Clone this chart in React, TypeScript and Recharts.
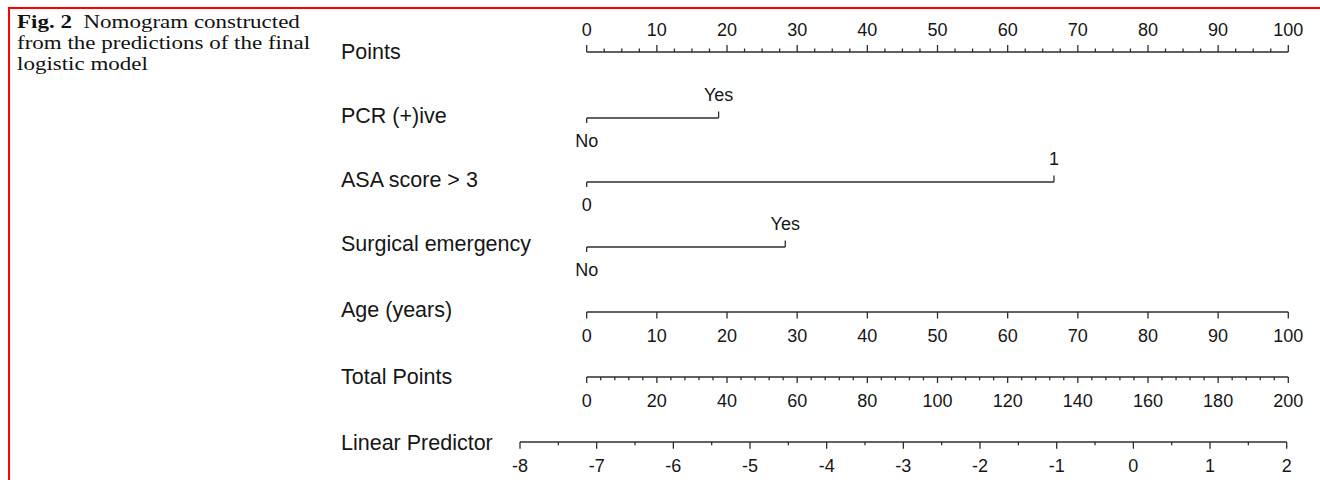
import React from 'react';
import { ComposedChart, Line, XAxis, YAxis } from 'recharts';

// ---------- data ----------
const rowLabels = ['Points', 'PCR (+)ive', 'ASA score > 3', 'Surgical emergency', 'Age (years)', 'Total Points', 'Linear Predictor'];

const pointsMajor = [0, 10, 20, 30, 40, 50, 60, 70, 80, 90, 100];
const pointsMinor = [2.5, 5, 7.5, 12.5, 15, 17.5, 22.5, 25, 27.5, 32.5, 35, 37.5, 42.5, 45, 47.5, 52.5, 55, 57.5, 62.5, 65, 67.5, 72.5, 75, 77.5, 82.5, 85, 87.5, 92.5, 95, 97.5];

const pcrLevels = ['No', 'Yes'];
const pcrPoints = [0, 18.8];
const asaLevels = ['0', '1'];
const asaPoints = [0, 66.6];
const emergencyLevels = ['No', 'Yes'];
const emergencyPoints = [0, 28.3];

const ageMajor = [0, 10, 20, 30, 40, 50, 60, 70, 80, 90, 100];

const totalMajor = [0, 20, 40, 60, 80, 100, 120, 140, 160, 180, 200];
const totalMinor = [4, 8, 12, 16, 24, 28, 32, 36, 44, 48, 52, 56, 64, 68, 72, 76, 84, 88, 92, 96, 104, 108, 112, 116, 124, 128, 132, 136, 144, 148, 152, 156, 164, 168, 172, 176, 184, 188, 192, 196];

const lpMajor = [-8, -7, -6, -5, -4, -3, -2, -1, 0, 1, 2];
const lpMinor = [-7.5, -6.5, -5.5, -4.5, -3.5, -2.5, -1.5, -0.5, 0.5, 1.5];

// ---------- style ----------
const W = 1320;
const INK = '#2e2e2e';
const TXT = '#161616';
const SANS = '"Liberation Sans", Arial, sans-serif';
const TICK_FS = 18;
const LABEL_FS = 21.5;
const X0 = 586.7;
const X1 = 1288.3;

const labelBaselines = [59.3, 123.3, 187.3, 251, 316.5, 383.5, 450];

type AxisRowProps = {
  lineY: number;
  xStart: number;
  xEnd: number;
  domain: [number, number];
  major: number[];
  minor: number[];
  orientation: 'top' | 'bottom';
  majorLen: number;
  minorLen: number;
  labelOff: number;
};

function AxisRow(p: AxisRowProps) {
  const all = [...p.major, ...p.minor].sort((a, b) => a - b);
  const data = all.map((v) => ({ x: v, y: 0 }));
  const dir = p.orientation === 'top' ? -1 : 1;
  const H = 50;
  const axisH = 40;
  const top = p.orientation === 'top' ? p.lineY - axisH : p.lineY - (H - axisH);
  const tick = (props: any) => {
    const { x, y, payload } = props;
    const v = payload.value;
    const isMajor = p.major.includes(v);
    const len = isMajor ? p.majorLen : p.minorLen;
    return (
      <g>
        <line x1={x} x2={x} y1={y} y2={y + dir * len} stroke={INK} strokeWidth={1.3} />
        {isMajor && (
          <text x={x} y={y + p.labelOff} textAnchor="middle" fontFamily={SANS} fontSize={TICK_FS} fill={TXT}>
            {String(v)}
          </text>
        )}
      </g>
    );
  };
  return (
    <div style={{ position: 'absolute', left: 0, top }}>
      <ComposedChart width={W} height={H} data={data} margin={{ top: 0, bottom: 0, left: p.xStart, right: W - p.xEnd }}>
        <XAxis
          dataKey="x"
          type="number"
          domain={p.domain}
          ticks={all}
          interval={0}
          orientation={p.orientation}
          height={axisH}
          tickSize={0}
          tickMargin={0}
          tickLine={false}
          axisLine={{ stroke: INK, strokeWidth: 1.3 }}
          tick={tick}
          allowDataOverflow
        />
        <YAxis hide domain={[0, 1]} />
        <Line dataKey="y" stroke="none" dot={false} isAnimationActive={false} />
      </ComposedChart>
    </div>
  );
}

type BinaryRowProps = {
  lineY: number;
  levels: string[];
  values: number[];
};

function BinaryRow(p: BinaryRowProps) {
  const data = p.values.map((v, i) => ({ x: v, y: 0.5, level: p.levels[i] }));
  const H = 80;
  const dot = (props: any) => {
    const { cx, cy, index, payload } = props;
    const first = index === 0;
    return (
      <g key={'d' + index}>
        <line x1={cx} x2={cx} y1={cy} y2={first ? cy + 5 : cy - 6.5} stroke={INK} strokeWidth={1.3} />
        <text x={cx} y={first ? cy + 29 : cy - 16.6} textAnchor="middle" fontFamily={SANS} fontSize={TICK_FS} fill={TXT}>
          {payload.level}
        </text>
      </g>
    );
  };
  return (
    <div style={{ position: 'absolute', left: 0, top: p.lineY - H / 2 }}>
      <ComposedChart width={W} height={H} data={data} margin={{ top: 0, bottom: 0, left: X0, right: W - X1 }}>
        <XAxis dataKey="x" type="number" domain={[0, 100]} hide />
        <YAxis hide domain={[0, 1]} />
        <Line dataKey="y" stroke={INK} strokeWidth={1.3} dot={dot} activeDot={false} isAnimationActive={false} />
      </ComposedChart>
    </div>
  );
}

export default function App() {
  return (
    <div style={{ position: 'fixed', left: 0, top: 0, width: W, height: 480, background: '#fff', overflow: 'hidden' }}>
      <div
        style={{
          position: 'absolute',
          left: 8,
          top: 7,
          width: 1312,
          height: 473,
          boxSizing: 'border-box',
          borderTop: '2px solid #ff0000',
          borderLeft: '2px solid #ff0000',
        }}
      />
      <div
        style={{
          position: 'absolute',
          left: 17,
          top: 11,
          fontFamily: '"Liberation Serif", "Times New Roman", serif',
          fontSize: 19,
          lineHeight: '21px',
          color: '#111',
          whiteSpace: 'nowrap',
          transform: 'scaleX(1.21)',
          transformOrigin: 'left top',
        }}
      >
        <b>Fig. 2</b>
        {'\u2002Nomogram constructed'}
        <br />
        {'from the predictions of the final'}
        <br />
        {'logistic model'}
      </div>

      <AxisRow lineY={52} xStart={X0} xEnd={X1} domain={[0, 100]} major={pointsMajor} minor={pointsMinor} orientation="top" majorLen={7} minorLen={3.5} labelOff={-16} />
      <BinaryRow lineY={118.3} levels={pcrLevels} values={pcrPoints} />
      <BinaryRow lineY={182.4} levels={asaLevels} values={asaPoints} />
      <BinaryRow lineY={246.5} levels={emergencyLevels} values={emergencyPoints} />
      <AxisRow lineY={311.7} xStart={X0} xEnd={X1} domain={[0, 100]} major={ageMajor} minor={[]} orientation="bottom" majorLen={6.5} minorLen={3.3} labelOff={30} />
      <AxisRow lineY={377.3} xStart={X0} xEnd={X1} domain={[0, 200]} major={totalMajor} minor={totalMinor} orientation="bottom" majorLen={6} minorLen={3.3} labelOff={29.5} />
      <AxisRow lineY={441.7} xStart={520} xEnd={1286.7} domain={[-8, 2]} major={lpMajor} minor={lpMinor} orientation="bottom" majorLen={6.7} minorLen={3.3} labelOff={30} />

      <svg width={W} height={480} style={{ position: 'absolute', left: 0, top: 0, pointerEvents: 'none' }}>
        {rowLabels.map((t, i) => (
          <text key={t} x={341} y={labelBaselines[i]} fontFamily={SANS} fontSize={LABEL_FS} fill={TXT}>
            {t}
          </text>
        ))}
      </svg>
    </div>
  );
}
